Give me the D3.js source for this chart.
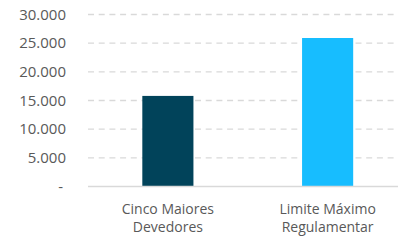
<!DOCTYPE html>
<html>
<head>
<meta charset="utf-8">
<script src="https://cdn.jsdelivr.net/npm/d3@7"></script>
<style>
  body { margin: 0; background: #fff; }
  text { font-family: "Open Sans", sans-serif; fill: #595959; }
</style>
</head>
<body>
<svg id="chart" width="398" height="240"></svg>
<script>
const categories = [['Cinco Maiores', 'Devedores'], ['Limite Máximo', 'Regulamentar']];
const values = [15800, 25900];
const colors = ['#01435A', '#17BDFF'];
const yTicks = [0, 5000, 10000, 15000, 20000, 25000, 30000];

const svg = d3.select('#chart');
const margin = { left: 88, top: 14.5, bottom: 186.5 };
const plotRight = 407.5;

const x = d3.scaleBand()
  .domain(d3.range(categories.length))
  .range([margin.left, plotRight])
  .paddingInner(0.68)
  .paddingOuter(0.34);

const y = d3.scaleLinear()
  .domain([0, 30000])
  .range([margin.bottom, margin.top]);

const fmt = d => d === 0 ? '-' : d3.format(',')(d).replace(/,/g, '.');

// grid lines
svg.append('g')
  .selectAll('line')
  .data(yTicks.filter(d => d > 0))
  .join('line')
    .attr('x1', margin.left)
    .attr('x2', plotRight)
    .attr('y1', d => y(d))
    .attr('y2', d => y(d))
    .attr('stroke', '#d9d9d9')
    .attr('stroke-width', 1.3)
    .attr('stroke-dasharray', '6 4.7');

// bars
svg.append('g')
  .selectAll('rect')
  .data(values)
  .join('rect')
    .attr('x', (d, i) => x(i))
    .attr('width', x.bandwidth())
    .attr('y', d => y(d))
    .attr('height', d => y(0) - y(d))
    .attr('fill', (d, i) => colors[i]);

// baseline
svg.append('line')
  .attr('x1', margin.left)
  .attr('x2', plotRight)
  .attr('y1', y(0))
  .attr('y2', y(0))
  .attr('stroke', '#d9d9d9')
  .attr('stroke-width', 1.3);

// y labels
svg.append('g')
  .selectAll('text')
  .data(yTicks)
  .join('text')
    .attr('x', d => d === 0 ? 63 : 66)
    .attr('y', d => y(d))
    .attr('dy', '0.35em')
    .attr('text-anchor', 'end')
    .attr('font-size', '15px')
    .text(fmt);

// category labels
const cat = svg.append('g')
  .selectAll('text')
  .data(categories)
  .join('text')
    .attr('x', (d, i) => x(i) + x.bandwidth() / 2)
    .attr('text-anchor', 'middle')
    .attr('font-size', '14px');

cat.selectAll('tspan')
  .data(d => d)
  .join('tspan')
    .attr('x', function () { return this.parentNode.getAttribute('x'); })
    .attr('y', (d, i) => 214 + i * 18)
    .text(d => d);
</script>
</body>
</html>
